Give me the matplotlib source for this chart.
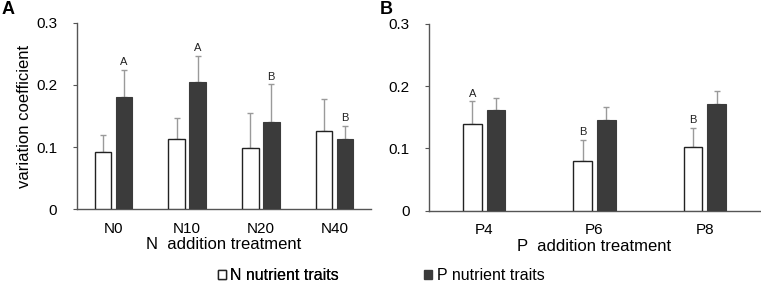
import numpy as np
import matplotlib.pyplot as plt
from matplotlib.patches import Patch

plt.rcParams['font.family'] = ['Liberation Sans', 'DejaVu Sans']

# panel A: N addition
n_cats = ["N0", "N10", "N20", "N40"]
n_white = [0.092, 0.113, 0.099, 0.126]
n_white_err = [0.028, 0.034, 0.055, 0.051]
n_dark = [0.181, 0.205, 0.140, 0.113]
n_dark_err = [0.043, 0.042, 0.061, 0.021]
n_letters = ["A", "A", "B", "B"]

# panel B: P addition
p_cats = ["P4", "P6", "P8"]
p_white = [0.139, 0.080, 0.103]
p_white_err = [0.037, 0.034, 0.030]
p_dark = [0.162, 0.146, 0.171]
p_dark_err = [0.019, 0.021, 0.022]
p_letters = ["A", "B", "B"]

dark = "#3b3b3b"
errc = "#9a9a9a"
spine = "#555555"


def draw(ax, cats, white, werr, darkv, derr, letters, letter_on_white, off, width, xlabel):
    x = np.arange(len(cats))
    ax.bar(x - off, white, width, color="white", edgecolor="#222222", linewidth=1.0, zorder=3)
    ax.bar(x + off, darkv, width, color=dark, edgecolor=dark, linewidth=0.8, zorder=3)
    ax.errorbar(x - off, white, yerr=[np.zeros(len(x)), werr], fmt="none",
                ecolor=errc, elinewidth=1.0, capsize=2, capthick=1.0, zorder=2)
    ax.errorbar(x + off, darkv, yerr=[np.zeros(len(x)), derr], fmt="none",
                ecolor=errc, elinewidth=1.0, capsize=2, capthick=1.0, zorder=2)
    for i, lab in enumerate(letters):
        if letter_on_white:
            xi, top = x[i] - off, white[i] + werr[i]
        else:
            xi, top = x[i] + off, darkv[i] + derr[i]
        ax.text(xi, top + 0.004, lab, ha="center", va="bottom", fontsize=8, color="#222222")
    ax.set_xlim(-0.5, len(cats) - 0.5)
    ax.set_ylim(0, 0.3)
    ax.set_yticks([0, 0.1, 0.2, 0.3])
    ax.set_yticklabels(["0", "0.1", "0.2", "0.3"])
    ax.set_xticks(x)
    ax.set_xticklabels(cats)
    ax.tick_params(axis="x", length=0, labelsize=11, pad=9)
    ax.tick_params(axis="y", length=3, color=spine, labelsize=11, pad=11)
    for s in ["top", "right"]:
        ax.spines[s].set_visible(False)
    for s in ["left", "bottom"]:
        ax.spines[s].set_color(spine)
        ax.spines[s].set_linewidth(1.0)
    ax.set_xlabel(xlabel, fontsize=12, labelpad=1)


fig = plt.figure(figsize=(7.61, 2.86), dpi=100)
axA = fig.add_axes([0.1008, 0.268, 0.387, 0.653])
axB = fig.add_axes([0.5637, 0.2633, 0.435, 0.653])

draw(axA, n_cats, n_white, n_white_err, n_dark, n_dark_err, n_letters, False, 0.142, 0.225, "N  addition treatment")
draw(axB, p_cats, p_white, p_white_err, p_dark, p_dark_err, p_letters, True, 0.108, 0.17, "P  addition treatment")
axA.set_ylabel("variation coefficient", fontsize=12, labelpad=3)

fig.text(0.002, 0.995, "A", fontsize=13, fontweight="bold", va="top", ha="left")
fig.text(0.499, 0.995, "B", fontsize=13, fontweight="bold", va="top", ha="left")

h1 = Patch(facecolor="white", edgecolor="#222222", linewidth=1.0)
h2 = Patch(facecolor=dark, edgecolor=dark)
leg1 = fig.legend([h1], ["N nutrient traits"], loc="center left", bbox_to_anchor=(0.286, 0.035),
                  frameon=False, fontsize=11.5, handlelength=0.5, handleheight=0.5, handletextpad=0.3,
                  borderaxespad=0, borderpad=0)
fig.add_artist(leg1)
fig.legend([h2], ["P nutrient traits"], loc="center left", bbox_to_anchor=(0.557, 0.035),
           frameon=False, fontsize=11.5, handlelength=0.5, handleheight=0.5, handletextpad=0.3,
           borderaxespad=0, borderpad=0)

fig.savefig("out.png", dpi=100)
